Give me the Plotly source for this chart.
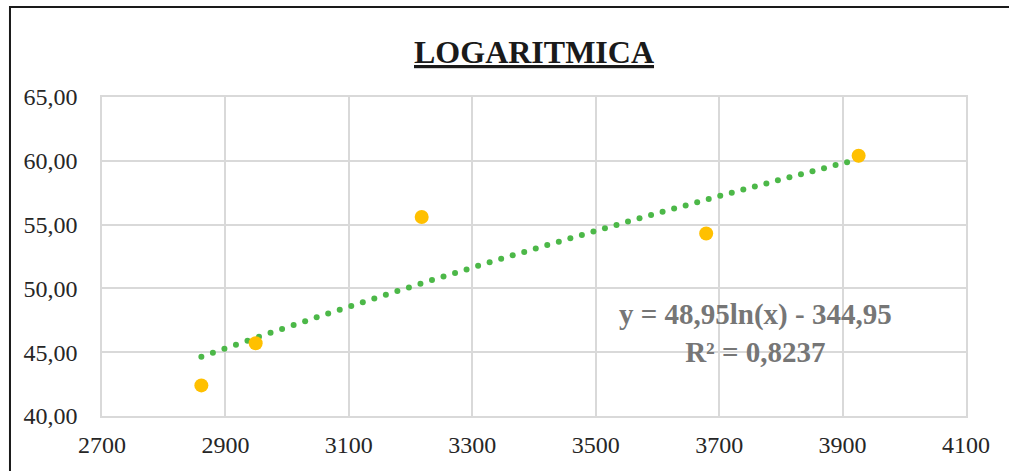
import numpy as np
import plotly.graph_objects as go

# Data
x_vals = [2861, 2949, 3218, 3679, 3926]
y_vals = [42.4, 45.7, 55.6, 54.3, 60.4]

# Logarithmic trendline coefficients (from chart label)
coef_a = 48.95
coef_b = -344.95
r2_label = "0,8237"

x_ticks = [2700, 2900, 3100, 3300, 3500, 3700, 3900, 4100]
y_ticks = [40, 45, 50, 55, 60, 65]

# trendline sampled as round dots (Excel "round dot" dash style)
tx = np.linspace(min(x_vals), max(x_vals), 58)
ty = coef_a * np.log(tx) + coef_b

fig = go.Figure()
fig.add_trace(go.Scatter(x=tx, y=ty, mode="markers",
                         marker=dict(color="#4cb848", size=6, line=dict(width=0)),
                         hoverinfo="skip", showlegend=False))
fig.add_trace(go.Scatter(x=x_vals, y=y_vals, mode="markers",
                         marker=dict(color="#ffc000", size=14, line=dict(width=0)),
                         showlegend=False))

font_serif = "Liberation Serif, Times New Roman, serif"

fig.update_layout(
    width=1009, height=471,
    margin=dict(l=102, r=43, t=97, b=55),
    paper_bgcolor="white", plot_bgcolor="white",
    separators=", ",
    font=dict(family=font_serif, color="#262626", size=24),
    xaxis=dict(range=[2700, 4100], tickvals=x_ticks, tickformat="d",
               showgrid=True, gridcolor="#d9d9d9", gridwidth=1.5,
               zeroline=False, showline=True, linecolor="#d9d9d9", linewidth=1.5,
               mirror=True, ticks="", ticklen=0, ticklabelstandoff=6,
               tickfont=dict(family=font_serif, size=24, color="#262626")),
    yaxis=dict(range=[40, 65], tickvals=y_ticks, tickformat=".2f",
               showgrid=True, gridcolor="#d9d9d9", gridwidth=1.5,
               zeroline=False, showline=True, linecolor="#d9d9d9", linewidth=1.5,
               mirror=True, ticks="", ticklen=0, ticklabelstandoff=18,
               tickfont=dict(family=font_serif, size=24, color="#262626")),
    shapes=[dict(type="rect", xref="paper", yref="paper",
                 x0=-0.1065, x1=1.1, y0=-0.4, y1=1.2821,
                 line=dict(color="#1a1a1a", width=2), fillcolor="rgba(0,0,0,0)",
                 layer="above")],
    annotations=[
        dict(text="<b><u>LOGARITMICA</u></b>", xref="paper", yref="paper",
             x=0.5, y=1.141, showarrow=False, xanchor="center", yanchor="middle",
             font=dict(family=font_serif, size=32, color="#1a1a1a")),
        dict(text="<b>y = 48,95ln(x) - 344,95<br>R² = " + r2_label + "</b>",
             xref="paper", yref="paper", x=0.756, y=0.26, showarrow=False,
             xanchor="center", yanchor="middle", align="center",
             font=dict(family=font_serif, size=29, color="#767676")),
    ],
)

fig.write_html("out.html", config={"displayModeBar": False},
               post_script="document.body.style.margin='0';")
